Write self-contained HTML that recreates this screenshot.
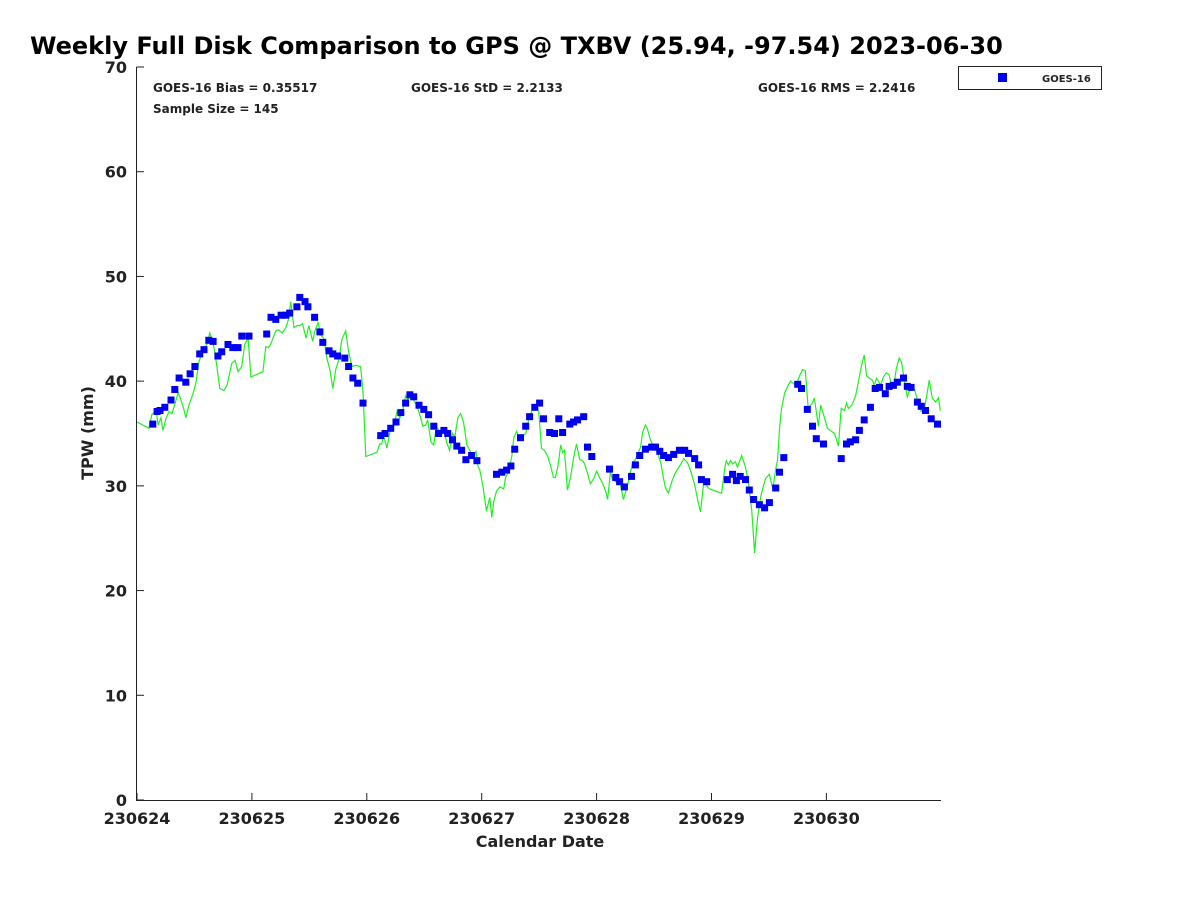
<!DOCTYPE html>
<html><head><meta charset="utf-8"><style>
body{margin:0;background:#fff;}
svg text{font-family:"DejaVu Sans","Liberation Sans",sans-serif;font-weight:bold;fill:#222;}
</style></head><body>
<svg id="chart" width="1200" height="900" xmlns="http://www.w3.org/2000/svg">
<rect width="1200" height="900" fill="#fff"/>
<text x="30" y="54" font-size="24" style="fill:#000">Weekly Full Disk Comparison to GPS @ TXBV (25.94, -97.54) 2023-06-30</text>
<text x="153" y="92" font-size="12">GOES-16 Bias = 0.35517</text>
<text x="411" y="92" font-size="12">GOES-16 StD = 2.2133</text>
<text x="758" y="92" font-size="12">GOES-16 RMS = 2.2416</text>
<text x="153" y="113" font-size="12">Sample Size = 145</text>
<g>
<rect x="958.5" y="66.5" width="143" height="23" fill="#fff" stroke="#222" stroke-width="1"/>
<rect x="998" y="73" width="9" height="9" fill="#0000f0"/>
<text x="1042" y="82" font-size="10">GOES-16</text>
</g>
<g id="plot"></g>
<text x="540" y="847" font-size="16" text-anchor="middle">Calendar Date</text>
<text transform="translate(93,433) rotate(-90)" font-size="16" text-anchor="middle">TPW (mm)</text>
</svg>
<script>
const xTickLabels=["230624","230625","230626","230627","230628","230629","230630"];
const yTickLabels=[0,10,20,30,40,50,60,70];
const goesHours=[3.3,4.2,4.8,5.8,7.1,7.9,8.8,10.2,11.1,12.1,13.1,14.0,15.0,15.9,16.9,17.7,19.0,20.0,21.1,21.9,23.4,27.1,28.0,29.0,30.1,31.1,31.9,33.4,34.0,35.1,35.7,37.1,38.2,38.8,40.1,40.9,41.9,43.4,44.2,45.1,46.1,47.2,50.9,51.8,53.0,54.1,55.1,56.1,57.0,57.8,58.9,59.9,60.9,62.0,63.0,64.1,64.9,65.9,66.8,67.8,68.7,69.9,71.0,75.1,76.2,77.2,78.1,78.9,80.1,81.2,82.0,83.1,84.1,84.9,86.2,87.2,88.1,88.9,90.4,91.2,92.0,93.3,94.1,95.0,98.7,100.0,100.8,101.8,103.3,104.1,105.0,106.2,107.5,108.3,109.2,110.0,111.0,112.1,113.3,114.4,115.2,116.5,117.3,117.9,119.0,123.3,124.4,125.2,126.0,127.1,127.9,128.8,130.0,131.1,132.1,133.4,134.2,135.1,138.0,138.8,140.0,141.1,141.9,143.4,147.1,148.2,149.0,150.1,150.9,151.9,153.2,154.2,155.1,156.3,157.1,158.0,158.8,160.1,160.9,161.7,163.0,163.8,164.7,165.9,167.2];
const goesTPW=[35.9,37.1,37.2,37.5,38.2,39.2,40.3,39.9,40.7,41.4,42.6,43.0,43.9,43.8,42.4,42.8,43.5,43.2,43.2,44.3,44.3,44.5,46.1,45.9,46.3,46.3,46.5,47.1,48.0,47.6,47.1,46.1,44.7,43.7,42.9,42.6,42.4,42.2,41.4,40.3,39.8,37.9,34.8,35.0,35.5,36.1,37.0,37.9,38.7,38.5,37.7,37.3,36.8,35.7,35.0,35.3,35.0,34.4,33.8,33.4,32.5,32.9,32.4,31.1,31.3,31.5,31.9,33.5,34.6,35.7,36.6,37.5,37.9,36.4,35.1,35.0,36.4,35.1,35.9,36.1,36.3,36.6,33.7,32.8,31.6,30.8,30.4,29.9,30.9,32.0,32.9,33.5,33.7,33.7,33.3,32.9,32.7,33.0,33.4,33.4,33.1,32.6,32.0,30.6,30.4,30.6,31.1,30.5,30.9,30.6,29.6,28.7,28.2,27.9,28.4,29.8,31.3,32.7,39.7,39.3,37.3,35.7,34.5,34.0,32.6,34.0,34.2,34.4,35.3,36.3,37.5,39.3,39.4,38.8,39.5,39.6,39.9,40.3,39.5,39.4,38.0,37.6,37.2,36.4,35.9];
const gpsHours=[0,2.5,3.1,4.0,4.4,5.0,5.4,6.1,6.7,7.3,7.7,8.6,9.2,9.8,10.2,10.9,11.7,12.3,12.9,13.8,14.6,15.2,15.9,16.5,17.3,18.2,18.8,19.8,20.5,21.1,21.9,22.5,23.2,23.8,26.3,26.9,27.5,28.0,28.4,29.0,29.6,30.3,31.1,31.7,32.1,32.8,33.4,34.0,34.6,35.3,35.9,36.7,37.1,37.8,38.4,39.0,39.7,40.3,40.9,41.5,42.2,42.8,43.6,44.2,44.9,45.7,46.7,47.2,47.8,50.1,50.7,51.1,51.5,52.2,52.8,53.6,54.3,54.9,55.5,56.1,56.6,57.2,57.8,58.6,59.3,59.7,60.3,60.7,61.4,62.0,62.4,62.8,63.4,64.1,64.7,65.3,65.9,66.4,67.0,67.6,68.2,68.9,69.5,70.1,70.8,71.2,71.6,72.2,73.0,73.7,74.1,74.5,75.1,75.8,76.6,77.0,77.7,78.3,78.7,79.3,80.0,80.6,81.2,81.8,82.5,83.3,83.9,84.5,85.1,85.8,86.4,87.0,87.4,87.9,88.5,88.9,89.3,89.9,90.6,91.2,91.8,92.5,93.1,93.5,94.1,94.7,95.4,96.0,96.6,97.2,97.9,98.3,98.9,99.3,100.0,100.6,101.2,101.6,102.3,102.9,103.5,104.1,105.2,105.6,106.2,106.6,107.1,107.5,108.1,108.7,109.4,109.8,110.4,111.0,111.7,112.3,112.9,113.5,114.2,115.0,115.6,116.5,117.1,117.7,118.4,119.0,119.6,122.1,122.8,123.1,123.5,124.0,124.4,125.0,125.4,126.3,127.1,127.7,128.4,129.0,129.6,130.3,130.9,131.3,132.1,132.8,133.4,133.8,134.2,134.6,135.3,135.9,136.5,137.3,137.7,138.4,139.0,139.6,140.2,141.1,141.5,142.3,142.8,143.6,144.2,145.7,146.5,147.1,147.8,148.2,148.6,149.3,150.1,150.5,151.3,151.9,152.4,153.2,153.6,154.0,154.5,155.3,155.9,156.5,157.1,157.6,158.2,158.6,159.2,159.7,160.3,160.9,161.7,162.4,163.0,163.8,164.5,165.5,166.1,166.8,167.4,167.8];
const gpsTPW=[36.1,35.5,36.8,37.2,35.8,36.5,35.3,36.5,37.1,36.9,37.5,38.9,38.2,37.3,36.5,37.8,38.8,39.8,41.8,43.0,43.5,44.6,43.7,42.0,39.3,39.1,39.6,41.7,42.0,40.9,41.4,43.5,44.1,40.4,40.9,43.3,43.2,43.6,44.1,44.8,44.9,44.6,45.1,46.0,47.6,45.1,45.3,45.3,45.5,44.1,45.3,43.8,44.7,45.6,44.4,44.1,42.1,41.1,39.3,41.1,42.1,44.0,44.8,42.8,41.4,41.5,41.4,39.0,32.8,33.2,34.0,34.0,34.8,33.6,35.1,35.7,37.1,36.5,37.2,38.6,38.2,38.9,38.2,37.5,36.4,35.7,35.8,36.3,34.2,33.9,35.3,35.5,35.1,35.3,34.1,33.4,35.0,34.7,36.5,36.9,36.1,33.9,33.4,32.9,33.3,31.9,31.5,30.1,27.6,28.9,27.0,28.5,29.5,29.9,29.7,30.8,31.4,32.9,34.6,35.2,34.4,34.8,35.0,36.3,37.2,37.7,37.1,33.6,33.4,32.8,31.9,30.8,30.8,31.8,33.9,33.2,33.4,29.6,30.9,32.7,34.0,32.5,32.4,32.1,31.2,30.2,30.7,31.4,30.8,30.3,29.5,28.7,31.4,30.6,30.4,30.8,29.6,28.7,29.8,30.9,32.2,32.5,33.7,35.1,35.8,35.5,34.6,34.1,33.6,33.2,32.2,31.1,29.8,29.3,30.4,31.1,31.6,32.0,32.6,32.2,31.5,30.1,28.7,27.5,30.4,30.0,29.7,29.3,31.8,32.4,32.0,32.4,32.1,32.3,31.8,32.9,31.8,30.4,27.7,23.6,26.9,29.0,30.1,30.7,31.1,29.7,31.6,32.5,35.4,37.3,38.9,39.5,40.0,39.7,39.6,40.5,41.1,41.0,37.4,37.9,38.4,35.7,37.7,36.5,35.5,35.0,33.8,37.4,37.2,37.9,37.4,37.7,38.6,39.5,41.4,42.5,40.5,40.2,40.1,39.6,40.3,39.6,40.4,40.8,40.6,39.6,39.9,41.2,42.2,41.8,40.1,38.5,39.5,39.2,38.2,37.1,37.4,40.1,38.4,38.0,38.4,37.2];

const NS='http://www.w3.org/2000/svg';
const X0=137,X1=941.3,Y0=800,Y1=67;
const xScale=h=>X0+(h/168)*(X1-X0);
const yScale=v=>Y0-(v/70)*(Y0-Y1);
const plot=document.getElementById('plot');
function mk(tag,attrs){const e=document.createElementNS(NS,tag);for(const k in attrs)e.setAttribute(k,attrs[k]);return e;}

// GPS line
let d='';
gpsHours.forEach((h,i)=>{d+=(i?'L':'M')+xScale(h).toFixed(1)+','+yScale(gpsTPW[i]).toFixed(1);});
const line=mk('path',{d:d,fill:'none',stroke:'#22ee22','stroke-width':'1.2'});


plot.appendChild(line);

// GOES markers
goesHours.forEach((h,i)=>{
  const r=mk('rect',{x:(xScale(h)-3.5).toFixed(1),y:(yScale(goesTPW[i])-3.5).toFixed(1),width:7,height:7,fill:'#0000f0'});
  
  
  plot.appendChild(r);
});

// axes
const ax=mk('path',{d:'M136.5,67V800.5H941',fill:'none',stroke:'#222','stroke-width':'1'});


plot.appendChild(ax);

yTickLabels.forEach(v=>{
  const y=yScale(v);
  const t=mk('line',{x1:136.5,x2:144,y1:y,y2:y,stroke:'#222','stroke-width':'1'});
  
  
  plot.appendChild(t);
  const l=mk('text',{x:127,y:y+6,'font-size':'16','text-anchor':'end'});
  l.textContent=v;
  
  
  plot.appendChild(l);
});
xTickLabels.forEach((s,i)=>{
  const x=xScale(i*24);
  const t=mk('line',{x1:x,x2:x,y1:800.5,y2:793,stroke:'#222','stroke-width':'1'});
  
  
  plot.appendChild(t);
  const l=mk('text',{x:x,y:824,'font-size':'16','text-anchor':'middle'});
  l.textContent=s;
  
  
  plot.appendChild(l);
});
</script>
</body></html>
